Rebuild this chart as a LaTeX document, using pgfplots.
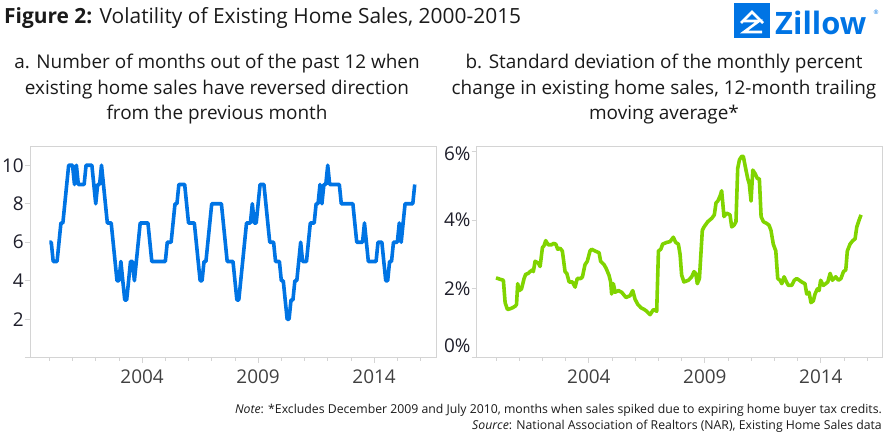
\documentclass[border=0pt]{standalone}
\usepackage{pgfplots}
\pgfplotsset{compat=1.18}
\usepackage{fontspec}
\setmainfont{Open Sans}
\definecolor{zblue}{HTML}{0074E4}
\definecolor{zgreen}{HTML}{80D400}
\definecolor{axgray}{HTML}{D4D4D4}
\definecolor{xgray}{HTML}{404040}
\definecolor{ygray}{HTML}{1E1E2A}
\definecolor{ttl}{HTML}{1A1A1A}
\pgfplotsset{
 panel/.style={
  scale only axis, width=406bp, height=211.7bp,
  xmin=-10, xmax=200,
  axis line style={axgray, line width=0.8bp},
  xtick={48,108,168}, xticklabels={2004,2009,2014},
  minor xtick={0,12,...,192},
  tick style={axgray, line width=0.8bp},
  major tick length=5bp, minor tick length=3bp,
  tick align=outside,
  xtick pos=bottom, ytick pos=left,
  ticklabel style={font=\fontsize{19}{22}\selectfont, inner sep=1bp},
  xticklabel style={text=xgray, yshift=-6bp},
  yticklabel style={text=ygray},
  /pgf/number format/assume math mode=true,
  clip=false,
 }
}
\begin{document}
\begin{tikzpicture}
\useasboundingbox (0,0) rectangle (884bp,434bp);
% title
\node[anchor=base west, inner sep=0, text=ttl, font=\fontsize{21}{25}\selectfont] at (4bp,410bp) {\textbf{Figure 2:} Volatility of Existing Home Sales, 2000-2015};
% subtitles
\begin{scope}[every node/.style={anchor=base, inner sep=0, text=ttl, font=\fontsize{19}{23}\selectfont}]
\node at (217bp,365bp) {a. Number of months out of the past 12 when};
\node at (217bp,339.5bp) {existing home sales have reversed direction};
\node at (217bp,314bp) {from the previous month};
\node at (664bp,365bp) {b. Standard deviation of the monthly percent};
\node at (664bp,339.5bp) {change in existing home sales, 12-month trailing};
\node at (664bp,314bp) {moving average*};
\end{scope}
% notes
\begin{scope}[every node/.style={anchor=base east, inner sep=0, text=ttl, font=\fontsize{12.3}{14}\selectfont}]
\node at (882bp,21bp) {\textit{Note}: *Excludes December 2009 and July 2010, months when sales spiked due to expiring home buyer tax credits.};
\node at (882bp,5bp) {\textit{Source}: National Association of Realtors (NAR), Existing Home Sales data};
\end{scope}
% logo
\fill[zblue] (734bp,396bp) rectangle (770bp,431bp);
\draw[white, line width=2.6bp, line join=miter] (741bp,411bp) -- (752bp,422bp) -- (763bp,411bp);
\draw[white, line width=2.6bp, line join=miter] (744bp,413bp) -- (759bp,413bp) -- (744bp,402bp) -- (762bp,402bp);
\node[anchor=base west, inner sep=0, text=zblue, font=\fontsize{31}{34}\selectfont\bfseries] at (775bp,399bp) {Zillow};
\node[anchor=center, inner sep=0, text=zblue, font=\fontsize{6}{7}\selectfont] at (876bp,422bp) {®};

\begin{axis}[panel, at={(30bp,76.3bp)}, anchor=south west,
  ymin=0, ymax=11, ytick={0,2,4,6,8,10}, yticklabels={,2,4,6,8,10}]
\addplot[zblue, line width=3.6bp, line join=round] coordinates {
(0,6)(1,6)(2,5)(3,5)(4,5)(5,6)(6,7)(7,7)(8,8)(9,9)(10,10)(11,10)(12,10)(13,9)(14,10)(15,9)(16,9)(17,9)(18,9)(19,10)(20,10)(21,10)(22,10)(23,9)(24,8)(25,9)(26,9)(27,10)(28,9)(29,8)(30,7)(31,7)(32,7)(33,6)(34,5)(35,4)(36,4)(37,5)(38,4)(39,3)(40,3)(41,4)(42,5)(43,5)(44,4)(45,5)(46,6)(47,7)(48,7)(49,7)(50,7)(51,7)(52,6)(53,5)(54,5)(55,5)(56,5)(57,5)(58,5)(59,5)(60,5)(61,6)(62,6)(63,6)(64,7)(65,8)(66,8)(67,9)(68,9)(69,9)(70,9)(71,8)(72,7)(73,7)(74,7)(75,7)(76,6)(77,5)(78,4)(79,4)(80,5)(81,5)(82,6)(83,7)(84,8)(85,8)(86,8)(87,8)(88,8)(89,8)(90,7)(91,6)(92,5)(93,5)(94,5)(95,5)(96,4)(97,3)(98,3)(99,4)(100,5)(101,6)(102,7)(103,7)(104,7)(105,8)(106,7)(107,7)(108,8)(109,9)(110,9)(111,9)(112,8)(113,7)(114,6)(115,6)(116,6)(117,5)(118,5)(119,5)(120,4)(121,4)(122,3)(123,2)(124,2)(125,3)(126,3)(127,4)(128,4)(129,5)(130,6)(131,5)(132,5)(133,5)(134,6)(135,7)(136,7)(137,7)(138,8)(139,8)(140,9)(141,8)(142,9)(143,9)(144,10)(145,9)(146,9)(147,9)(148,9)(149,9)(150,9)(151,8)(152,8)(153,8)(154,8)(155,8)(156,8)(157,8)(158,7)(159,6)(160,6)(161,6)(162,6)(163,7)(164,6)(165,5)(166,5)(167,5)(168,5)(169,5)(170,6)(171,6)(172,6)(173,5)(174,4)(175,4)(176,5)(177,5)(178,6)(179,6)(180,6)(181,7)(182,6)(183,7)(184,8)(185,8)(186,8)(187,8)(188,8)(189,9)
};
\end{axis}

\begin{axis}[panel, at={(476.7bp,76.3bp)}, anchor=south west,
  ymin=0, ymax=6.15, ytick={0,2,4,6},
  yticklabels={\raisebox{24bp}{0\%},2\%,4\%,\raisebox{-18bp}{6\%}}]
\addplot[zgreen, line width=3.6bp, line join=round] coordinates {
(0,2.32)(1,2.3)(2,2.28)(3.8,2.25)(4.7,1.6)(5.9,1.4)(7.2,1.42)(8.5,1.45)(10,1.5)(10.6,1.55)(11.2,2.15)(12,1.95)(13.2,2.0)(14.5,2.3)(15.3,2.42)(16.7,2.45)(17.6,2.5)(18.8,2.55)(19.3,2.5)(20.2,2.8)(21.9,2.75)(22.8,2.65)(24,3.2)(24.8,3.25)(25.7,3.4)(27,3.28)(28.8,3.28)(29.7,3.32)(30.9,3.3)(31.9,3.15)(33.1,3.18)(34.3,3.1)(35.7,2.5)(36.6,2.45)(37.8,2.2)(39.5,2.2)(40.9,2.05)(42,2.3)(43.8,2.3)(44.7,2.35)(46,2.7)(47.2,2.8)(48.6,3.1)(49.5,3.15)(51.2,3.1)(53.3,3.05)(54.1,2.8)(55.9,2.7)(56.9,2.6)(58.4,2.4)(59.3,2.2)(59.8,1.85)(60.7,2.15)(61.6,1.9)(63.3,1.95)(65,1.9)(67.2,1.75)(69.3,1.8)(70.7,1.95)(71.9,1.7)(73.3,1.55)(75,1.45)(76.7,1.4)(77.9,1.35)(79.7,1.25)(81.4,1.4)(83.1,1.35)(84,3.1)(85.2,3.15)(86.2,3.3)(88.3,3.35)(90,3.37)(91.7,3.5)(92.9,3.35)(94.3,3.3)(95.2,3.0)(96,2.4)(97.2,2.2)(99.5,2.25)(101.2,2.35)(102.4,2.5)(103.3,2.45)(104.1,2.15)(105.2,2.3)(106.7,3.7)(107.6,3.8)(109.5,3.95)(111.6,4.05)(112.9,4.15)(113.8,4.5)(114.7,4.55)(115.9,4.7)(116.7,4.85)(117.9,4.1)(119.3,4.2)(121,4.15)(121.9,3.8)(123.1,3.85)(124.1,3.95)(125,5.5)(125.9,5.75)(127.1,5.85)(127.9,5.85)(129.1,5.5)(130.2,5.2)(131,5.05)(131.9,4.55)(132.8,5.45)(134,5.35)(135.2,5.2)(136.2,5.2)(137.1,4.1)(138.3,3.95)(140,3.9)(141.2,3.85)(142.2,3.7)(143.4,3.3)(144.7,3.1)(145.7,2.3)(146.9,2.25)(147.8,2.15)(149,2.35)(149.8,2.25)(151.2,2.1)(152.9,2.1)(154.3,2.25)(155.5,2.3)(156.9,2.25)(158.1,2.2)(159.8,2.15)(160.7,1.85)(161.9,1.9)(162.9,1.6)(164.1,1.65)(165,1.85)(166.2,2.0)(167.1,1.95)(167.9,2.25)(169.3,2.1)(170.5,2.15)(171.6,2.2)(172.8,2.45)(174,2.25)(175.7,2.35)(177.1,2.25)(178.4,2.3)(179.7,2.5)(180.9,2.55)(181.7,3.1)(183.1,3.3)(184.5,3.4)(185.7,3.45)(186.6,3.8)(187.8,4.0)(188.8,4.15)
};
\end{axis}
\end{tikzpicture}
\end{document}
